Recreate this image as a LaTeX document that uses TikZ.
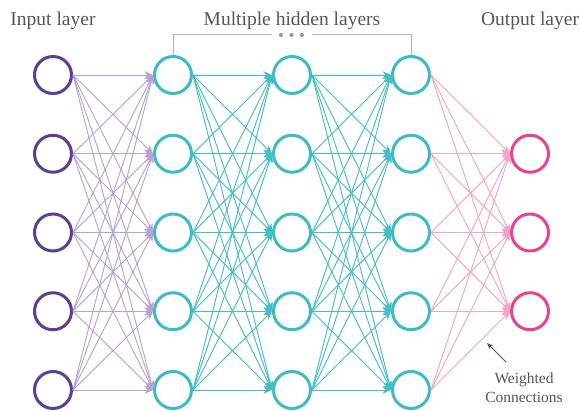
\documentclass[tikz,border=0pt]{standalone}
\usepackage{fontspec}
\setmainfont{Liberation Serif}
\usetikzlibrary{arrows.meta}
\definecolor{inpurple}{HTML}{5C3F96}
\definecolor{inlink}{HTML}{B9A1D3}
\definecolor{hidteal}{HTML}{3EBBC3}
\definecolor{hidlink}{HTML}{45BDC4}
\definecolor{outpink}{HTML}{E8438C}
\definecolor{outlink}{HTML}{F4A2C7}
\definecolor{txtgray}{HTML}{555555}
\definecolor{brgray}{HTML}{B4B4B4}
\definecolor{dotgray}{HTML}{9A9A9A}
\tikzset{
  neuron/.style={circle, draw, line width=3pt, fill=white, inner sep=0pt, minimum size=37pt},
  inneuron/.style={neuron, draw=inpurple},
  hidneuron/.style={neuron, draw=hidteal},
  outneuron/.style={neuron, draw=outpink},
  link/.style={line width=0.9pt, -{Stealth[length=8.5pt,width=7.5pt]}},
  inedge/.style={link, draw=inlink, fill=inlink},
  hidedge/.style={link, draw=hidlink, fill=hidlink},
  outedge/.style={link, draw=outlink, fill=outlink},
  title/.style={text=txtgray, font=\fontsize{19.5}{23}\selectfont, anchor=base, inner sep=0pt},
  note/.style={text=txtgray, font=\fontsize{15.5}{19}\selectfont, align=center, inner sep=0pt},
  bracket/.style={draw=brgray, line width=1pt}
}
\begin{document}
\begin{tikzpicture}[x=1pt,y=-1pt]
\useasboundingbox (0,0) rectangle (580,411);

% neurons
\foreach \i in {1,...,5} {
  \node[inneuron] (in\i) at (53,{75+78.75*(\i-1)}) {};
  \node[hidneuron] (ha\i) at (173,{75+78.75*(\i-1)}) {};
  \node[hidneuron] (hb\i) at (292,{75+78.75*(\i-1)}) {};
  \node[hidneuron] (hc\i) at (411,{75+78.75*(\i-1)}) {};
}
\foreach \i in {1,2,3} {
  \node[outneuron] (out\i) at (530,{153.75+78.75*(\i-1)}) {};
}

% weighted connections
\foreach \i in {1,...,5} {
  \foreach \j in {1,...,5} {
    \draw[inedge] (in\i.east) -- (ha\j.west);
    \draw[hidedge] (ha\i.east) -- (hb\j.west);
    \draw[hidedge] (hb\i.east) -- (hc\j.west);
  }
  \foreach \j in {1,2,3} {
    \draw[outedge] (hc\i.east) -- (out\j.west);
  }
}

% layer titles
\node[title] (tin) at (53,26) {Input layer};
\node[title] (thid) at (292,26) {Multiple hidden layers};
\node[title] (tout) at (530,26) {Output layer};

% bracket over the hidden layers
\coordinate (brl) at (272,35);
\coordinate (brr) at (312,35);
\draw[bracket] (ha1.north) |- (brl);
\draw[bracket] (hc1.north) |- (brr);
\foreach \x in {281,291.5,302} {
  \fill[dotgray] (\x,35) circle (2.1pt);
}

% annotation
\node[note] (wlabel) at (524,388) {Weighted\\Connections};
\coordinate (wfrom) at (506,362);
\coordinate (wto) at (487,343);
\draw[draw=txtgray, line width=0.8pt, -{Stealth[length=6pt,width=5pt]}] (wfrom) -- (wto);
\end{tikzpicture}
\end{document}
